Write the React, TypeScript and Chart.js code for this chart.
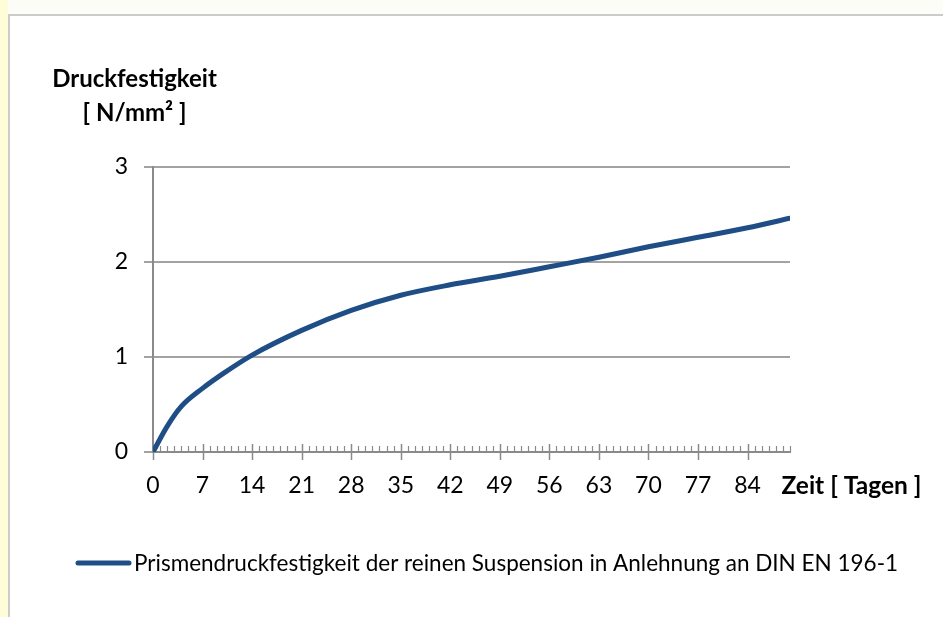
import React, { useEffect, useRef } from 'react';
import { Chart, registerables } from 'chart.js';

Chart.register(...registerables);

const FONT = 'Lato, "Open Sans", sans-serif';

// Zeit [Tagen]
const days = [0, 2, 4, 7, 10, 14, 21, 28, 35, 42, 49, 56, 63, 70, 77, 84, 90];
// Druckfestigkeit [N/mm²]
const strength = [0, 0.27, 0.48, 0.67, 0.83, 1.02, 1.28, 1.49, 1.65, 1.76, 1.85, 1.95, 2.05, 2.16, 2.26, 2.36, 2.46];

const xTickValues = [0, 7, 14, 21, 28, 35, 42, 49, 56, 63, 70, 77, 84];
const yTickValues = [0, 1, 2, 3];

const seriesLabel = 'Prismendruckfestigkeit der reinen Suspension in Anlehnung an DIN EN 196-1';
const yTitleLines = ['Druckfestigkeit', '[ N/mm² ]'];
const xTitle = 'Zeit [ Tagen ]';

const LINE_COLOR = '#1f4e87';
const AXIS_COLOR = '#8a8a8a';

const tickPlugin = {
  id: 'excelTicks',
  beforeDatasetsDraw(chart: any) {
    const xs = chart.scales.x;
    const ys = chart.scales.y;
    const y0 = ys.getPixelForValue(0);
    const ctx = chart.ctx;
    ctx.save();
    ctx.strokeStyle = AXIS_COLOR;
    for (let d = xs.min; d <= xs.max; d += 1) {
      const px = Math.round(xs.getPixelForValue(d)) + 0.5;
      const major = xTickValues.includes(d);
      ctx.lineWidth = major ? 1.5 : 1.2;
      ctx.beginPath();
      ctx.moveTo(px, y0 - (major ? 8 : 6));
      ctx.lineTo(px, major ? y0 + 8 : y0);
      ctx.stroke();
    }
    ctx.restore();
  },
};

const textPlugin = {
  id: 'excelTexts',
  afterDraw(chart: any) {
    const ctx = chart.ctx;
    const ds = chart.data.datasets[0];
    ctx.save();
    ctx.fillStyle = '#000';
    ctx.textBaseline = 'middle';
    ctx.textAlign = 'center';
    ctx.font = `bold 24px ${FONT}`;
    ctx.fillText(yTitleLines[0], 134.5, 79);
    ctx.fillText(yTitleLines[1], 134.5, 113);
    ctx.font = `bold 24.5px ${FONT}`;
    ctx.fillText(xTitle, 851.5, 486);
    // legend
    ctx.strokeStyle = ds.borderColor;
    ctx.lineWidth = 5;
    ctx.lineCap = 'round';
    ctx.beginPath();
    ctx.moveTo(78, 563);
    ctx.lineTo(129, 563);
    ctx.stroke();
    ctx.textAlign = 'left';
    ctx.font = `22.5px ${FONT}`;
    ctx.fillText(ds.label, 134, 564);
    ctx.restore();
  },
};

export default function App() {
  const ref = useRef<HTMLCanvasElement>(null);

  useEffect(() => {
    if (!ref.current) return;
    const chart = new Chart(ref.current, {
      type: 'line',
      data: {
        datasets: [
          {
            label: seriesLabel,
            data: days.map((d, i) => ({ x: d, y: strength[i] })),
            borderColor: LINE_COLOR,
            backgroundColor: LINE_COLOR,
            borderWidth: 5,
            borderCapStyle: 'round',
            pointRadius: 0,
            cubicInterpolationMode: 'monotone',
            fill: false,
          },
        ],
      },
      options: {
        animation: false,
        responsive: false,
        maintainAspectRatio: false,
        layout: { padding: { left: 93, right: 153, top: 167, bottom: 115 } },
        plugins: {
          legend: { display: false },
          tooltip: { enabled: false },
          title: { display: false },
        },
        scales: {
          x: {
            type: 'linear',
            min: 0,
            max: 90,
            afterBuildTicks: (s: any) => {
              s.ticks = xTickValues.map((v) => ({ value: v }));
            },
            afterFit: (s: any) => {
              s.height = 50;
            },
            ticks: {
              autoSkip: false,
              maxRotation: 0,
              padding: 20,
              color: '#000',
              font: { family: FONT, size: 23 },
            },
            grid: { display: false, drawTicks: false },
            border: { display: true, color: AXIS_COLOR, width: 2 },
          },
          y: {
            type: 'linear',
            min: 0,
            max: 3,
            afterBuildTicks: (s: any) => {
              s.ticks = yTickValues.map((v) => ({ value: v }));
            },
            afterFit: (s: any) => {
              s.width = 60;
            },
            ticks: {
              padding: 16,
              color: '#000',
              font: { family: FONT, size: 23 },
            },
            grid: { color: '#a3a3a3', lineWidth: 2, tickLength: 9, drawTicks: true },
            border: { display: true, color: AXIS_COLOR, width: 2 },
          },
        },
      },
      plugins: [tickPlugin, textPlugin],
    } as any);
    return () => chart.destroy();
  }, []);

  return (
    <div style={{ position: 'fixed', left: 0, top: 0, width: 943, height: 617, background: '#fdfdf8', overflow: 'hidden' }}>
      <div style={{ position: 'absolute', left: 0, top: 0, width: 8, height: 617, background: '#fffdd8' }} />
      <div
        style={{
          position: 'absolute',
          left: 8,
          top: 14,
          width: 960,
          height: 640,
          background: '#ffffff',
          borderLeft: '2px solid #cccccc',
          borderTop: '2px solid #cccccc',
        }}
      />
      <canvas ref={ref} width={943} height={617} style={{ position: 'absolute', left: 0, top: 0, width: 943, height: 617 }} />
    </div>
  );
}
